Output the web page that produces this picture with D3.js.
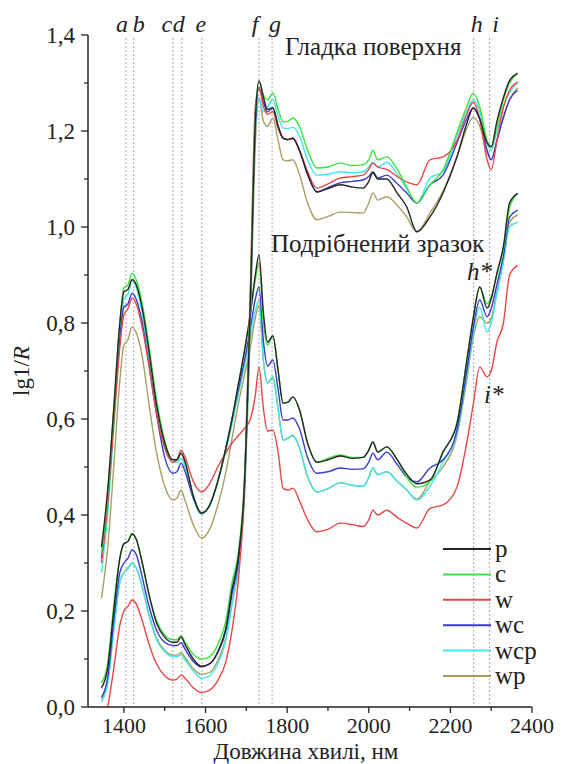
<!DOCTYPE html>
<html>
<head>
<meta charset="utf-8">
<script src="https://cdn.jsdelivr.net/npm/d3@7"></script>
<style>
  body { margin: 0; background: #fff; }
</style>
</head>
<body>
<script>
const width = 561;
const height = 764;
const serif = "'Liberation Serif'";

// Довжини хвиль (нм)
const wavelengths = [1345, 1360, 1375, 1390, 1400, 1410, 1420, 1430, 1445, 1460,
  1480, 1500, 1520, 1530, 1540, 1550, 1570, 1590, 1610, 1630,
  1650, 1665, 1680, 1695, 1710, 1722, 1731, 1742, 1752, 1765,
  1778, 1790, 1802, 1814, 1830, 1850, 1873, 1900, 1930, 1960,
  1986, 2000, 2010, 2022, 2044, 2070, 2093, 2118, 2150, 2182,
  2216, 2240, 2256, 2272, 2290, 2300, 2314, 2330, 2345, 2365];

// Гладка поверхня
const smoothP = [0.04, 0.08, 0.20, 0.31, 0.34, 0.345, 0.36, 0.35, 0.30, 0.24,
  0.175, 0.145, 0.135, 0.135, 0.146, 0.13, 0.10, 0.085, 0.09, 0.115,
  0.165, 0.245, 0.31, 0.46, 0.85, 1.22, 1.305, 1.27, 1.245, 1.248,
  1.21, 1.185, 1.182, 1.185, 1.16, 1.11, 1.073, 1.08, 1.088, 1.083,
  1.081, 1.095, 1.113, 1.10, 1.10, 1.07, 1.042, 0.99, 1.021, 1.071,
  1.146, 1.215, 1.248, 1.225, 1.175, 1.167, 1.22, 1.27, 1.305, 1.32];
const smoothC = [0.05, 0.09, 0.21, 0.31, 0.34, 0.345, 0.362, 0.35, 0.30, 0.24,
  0.18, 0.15, 0.14, 0.14, 0.148, 0.135, 0.11, 0.10, 0.105, 0.13,
  0.18, 0.26, 0.32, 0.47, 0.86, 1.23, 1.302, 1.275, 1.265, 1.279,
  1.245, 1.219, 1.22, 1.227, 1.21, 1.16, 1.123, 1.125, 1.133, 1.128,
  1.13, 1.14, 1.16, 1.14, 1.146, 1.12, 1.083, 1.05, 1.088, 1.119,
  1.196, 1.25, 1.279, 1.25, 1.18, 1.167, 1.21, 1.265, 1.30, 1.32];
const smoothW = [-0.03, 0.0, 0.08, 0.17, 0.20, 0.21, 0.223, 0.215, 0.18, 0.135,
  0.09, 0.065, 0.056, 0.058, 0.067, 0.06, 0.04, 0.03, 0.035, 0.055,
  0.095, 0.16, 0.26, 0.45, 0.88, 1.25, 1.29, 1.25, 1.235, 1.24,
  1.205, 1.185, 1.182, 1.185, 1.16, 1.115, 1.081, 1.09, 1.102, 1.105,
  1.108, 1.12, 1.133, 1.125, 1.12, 1.105, 1.094, 1.088, 1.14, 1.146,
  1.18, 1.235, 1.26, 1.225, 1.14, 1.119, 1.18, 1.25, 1.285, 1.302];
const smoothWC = [0.02, 0.06, 0.18, 0.28, 0.30, 0.31, 0.327, 0.318, 0.27, 0.215,
  0.16, 0.135, 0.128, 0.128, 0.134, 0.12, 0.095, 0.084, 0.09, 0.113,
  0.16, 0.235, 0.30, 0.45, 0.84, 1.21, 1.29, 1.26, 1.24, 1.248,
  1.21, 1.185, 1.182, 1.185, 1.16, 1.11, 1.073, 1.082, 1.092, 1.095,
  1.098, 1.105, 1.115, 1.102, 1.108, 1.09, 1.071, 1.05, 1.088, 1.108,
  1.175, 1.225, 1.248, 1.225, 1.16, 1.14, 1.18, 1.229, 1.265, 1.285];
const smoothWCP = [0.01, 0.05, 0.16, 0.26, 0.28, 0.288, 0.30, 0.29, 0.25, 0.195,
  0.14, 0.115, 0.105, 0.105, 0.108, 0.098, 0.075, 0.06, 0.065, 0.09,
  0.14, 0.215, 0.29, 0.44, 0.83, 1.20, 1.265, 1.24, 1.25, 1.265,
  1.23, 1.206, 1.205, 1.208, 1.19, 1.14, 1.108, 1.11, 1.115, 1.113,
  1.115, 1.125, 1.135, 1.125, 1.135, 1.11, 1.08, 1.05, 1.102, 1.115,
  1.19, 1.24, 1.265, 1.24, 1.175, 1.16, 1.20, 1.25, 1.28, 1.30];
const smoothWP = [0.015, 0.05, 0.16, 0.26, 0.28, 0.29, 0.30, 0.29, 0.25, 0.198,
  0.143, 0.118, 0.108, 0.108, 0.113, 0.103, 0.08, 0.068, 0.072, 0.097,
  0.145, 0.215, 0.285, 0.43, 0.80, 1.17, 1.27, 1.22, 1.21, 1.227,
  1.18, 1.14, 1.138, 1.14, 1.11, 1.05, 1.015, 1.022, 1.031, 1.03,
  1.029, 1.05, 1.071, 1.056, 1.063, 1.045, 1.021, 0.99, 1.029, 1.075,
  1.146, 1.205, 1.229, 1.21, 1.155, 1.14, 1.18, 1.227, 1.265, 1.29];

// Подрібнений зразок
const groundP = [0.333, 0.45, 0.62, 0.80, 0.865, 0.87, 0.89, 0.88, 0.83, 0.75,
  0.63, 0.55, 0.515, 0.515, 0.529, 0.51, 0.44, 0.404, 0.42, 0.47,
  0.54, 0.60, 0.67, 0.74, 0.82, 0.90, 0.942, 0.82, 0.76, 0.773,
  0.70, 0.633, 0.635, 0.646, 0.62, 0.55, 0.51, 0.515, 0.523, 0.518,
  0.52, 0.535, 0.552, 0.531, 0.542, 0.515, 0.485, 0.465, 0.473, 0.531,
  0.59, 0.72, 0.81, 0.875, 0.831, 0.85, 0.904, 0.96, 1.05, 1.07];
const groundC = [0.32, 0.44, 0.62, 0.80, 0.873, 0.88, 0.904, 0.89, 0.84, 0.76,
  0.64, 0.555, 0.515, 0.515, 0.529, 0.51, 0.44, 0.404, 0.42, 0.47,
  0.54, 0.60, 0.67, 0.74, 0.82, 0.89, 0.925, 0.80, 0.754, 0.773,
  0.70, 0.633, 0.635, 0.646, 0.62, 0.55, 0.51, 0.518, 0.525, 0.52,
  0.52, 0.535, 0.552, 0.531, 0.542, 0.515, 0.479, 0.458, 0.47, 0.531,
  0.592, 0.72, 0.81, 0.875, 0.84, 0.855, 0.90, 0.955, 1.04, 1.07];
const groundW = [0.30, 0.42, 0.59, 0.75, 0.817, 0.83, 0.852, 0.84, 0.79, 0.72,
  0.61, 0.54, 0.51, 0.515, 0.535, 0.52, 0.47, 0.448, 0.465, 0.50,
  0.53, 0.55, 0.565, 0.58, 0.60, 0.65, 0.708, 0.62, 0.575, 0.577,
  0.53, 0.456, 0.452, 0.456, 0.43, 0.39, 0.365, 0.37, 0.383, 0.38,
  0.376, 0.39, 0.41, 0.40, 0.41, 0.395, 0.383, 0.373, 0.414, 0.421,
  0.458, 0.55, 0.63, 0.708, 0.688, 0.70, 0.76, 0.80, 0.90, 0.92];
const groundWC = [0.31, 0.43, 0.60, 0.77, 0.833, 0.84, 0.862, 0.85, 0.80, 0.72,
  0.61, 0.52, 0.487, 0.49, 0.508, 0.49, 0.435, 0.404, 0.42, 0.47,
  0.54, 0.60, 0.66, 0.72, 0.79, 0.85, 0.875, 0.76, 0.71, 0.723,
  0.66, 0.598, 0.598, 0.602, 0.58, 0.52, 0.487, 0.49, 0.498, 0.495,
  0.496, 0.51, 0.529, 0.515, 0.531, 0.505, 0.479, 0.469, 0.498, 0.515,
  0.577, 0.70, 0.79, 0.848, 0.813, 0.83, 0.88, 0.94, 1.02, 1.035];
const groundWCP = [0.28, 0.40, 0.58, 0.76, 0.85, 0.86, 0.89, 0.875, 0.82, 0.735,
  0.615, 0.54, 0.51, 0.51, 0.518, 0.50, 0.435, 0.402, 0.42, 0.47,
  0.535, 0.59, 0.65, 0.71, 0.77, 0.825, 0.848, 0.72, 0.675, 0.688,
  0.62, 0.556, 0.56, 0.567, 0.54, 0.48, 0.448, 0.455, 0.467, 0.462,
  0.46, 0.478, 0.498, 0.484, 0.49, 0.47, 0.452, 0.431, 0.46, 0.51,
  0.57, 0.69, 0.78, 0.833, 0.781, 0.80, 0.86, 0.93, 1.0, 1.01];
const groundWP = [0.227, 0.33, 0.50, 0.68, 0.754, 0.765, 0.792, 0.78, 0.73, 0.64,
  0.53, 0.46, 0.431, 0.435, 0.452, 0.43, 0.38, 0.352, 0.37, 0.42,
  0.49, 0.56, 0.63, 0.69, 0.75, 0.81, 0.837, 0.72, 0.675, 0.685,
  0.62, 0.556, 0.56, 0.565, 0.54, 0.48, 0.448, 0.455, 0.467, 0.462,
  0.46, 0.478, 0.498, 0.484, 0.49, 0.47, 0.452, 0.433, 0.47, 0.50,
  0.565, 0.68, 0.77, 0.813, 0.80, 0.81, 0.865, 0.93, 1.01, 1.025];

const seriesNames = ['p', 'c', 'w', 'wc', 'wcp', 'wp'];
const seriesColors = ['#262626', '#3ee23e', '#e8474a', '#3b3bd0', '#3ee8e8', '#a6a060'];
const smoothSeries = [smoothP, smoothC, smoothW, smoothWC, smoothWCP, smoothWP];
const groundSeries = [groundP, groundC, groundW, groundWC, groundWCP, groundWP];

// Смуги поглинання
const bandLabels = ['a', 'b', 'c', 'd', 'e', 'f', 'g', 'h', 'i'];
const bandPositions = [1405, 1424, 1520, 1542, 1591, 1731, 1763, 2257, 2296];

const xTicks = [1400, 1600, 1800, 2000, 2200, 2400];
const yTicks = [0, 0.2, 0.4, 0.6, 0.8, 1.0, 1.2, 1.4];

const x = d3.scaleLinear().domain([1312, 2400]).range([88, 532]);
const y = d3.scaleLinear().domain([0, 1.4]).range([707, 35]);

const svg = d3.select('body').append('svg')
  .attr('width', width)
  .attr('height', height)
  .style('font-family', serif);

// текст завжди з явним шрифтом
function label(parent, tx, ty, size, str, italic) {
  return parent.append('text')
    .attr('x', tx).attr('y', ty)
    .style('font-family', serif)
    .style('font-size', size + 'px')
    .style('font-style', italic ? 'italic' : 'normal')
    .style('fill', '#222')
    .text(str);
}

svg.append('clipPath').attr('id', 'plot')
  .append('rect').attr('x', 88).attr('y', 30).attr('width', 450).attr('height', 677);

// вертикальні пунктирні лінії
svg.selectAll('line.band')
  .data(bandPositions)
  .enter()
  .append('line')
  .attr('class', 'band')
  .attr('x1', d => x(d)).attr('x2', d => x(d))
  .attr('y1', 38).attr('y2', 707)
  .attr('stroke', '#aaa')
  .attr('stroke-width', 1)
  .attr('stroke-dasharray', '2,2');

// зсув підписів відносно ліній
const labelShift = [-4, 5, -6, -3, -1, -4, 3, 3, 6];
bandLabels.forEach((d, i) => {
  label(svg, x(bandPositions[i]) + labelShift[i], 32, 24, d, true).attr('text-anchor', 'middle');
});

const line = d3.line()
  .x((d, i) => x(wavelengths[i]))
  .y(d => y(d))
  .curve(d3.curveMonotoneX);

const curves = svg.append('g').attr('clip-path', 'url(#plot)');
[groundSeries, smoothSeries].forEach(group => {
  [5, 4, 3, 2, 1, 0].forEach(k => {
    curves.append('path')
      .attr('d', line(group[k]))
      .attr('fill', 'none')
      .attr('stroke', seriesColors[k])
      .attr('stroke-width', 1.4);
  });
});

// осі
const xAxis = svg.append('g').attr('transform', 'translate(0,707)');
xAxis.append('line').attr('x1', 88).attr('x2', 532).attr('stroke', '#222').attr('stroke-width', 1.5);
xAxis.selectAll('line.t')
  .data(d3.range(1400, 2401, 100))
  .enter().append('line')
  .attr('x1', d => x(d)).attr('x2', d => x(d))
  .attr('y1', 0).attr('y2', d => d % 200 === 0 ? 6 : 4)
  .attr('stroke', '#222').attr('stroke-width', 1.3);
xTicks.forEach(d => {
  label(xAxis, x(d), 26, 22, String(d)).attr('text-anchor', 'middle');
});

const yAxis = svg.append('g').attr('transform', 'translate(88,0)');
yAxis.append('line').attr('y1', 35).attr('y2', 707).attr('stroke', '#222').attr('stroke-width', 1.5);
yAxis.selectAll('line.t')
  .data(d3.range(0, 15).map(d => d / 10))
  .enter().append('line')
  .attr('y1', d => y(d)).attr('y2', d => y(d))
  .attr('x1', (d, i) => i % 2 === 0 ? -7 : -4).attr('x2', 0)
  .attr('stroke', '#222').attr('stroke-width', 1.3);
yTicks.forEach(d => {
  label(yAxis, -13, y(d) + 8, 23, d3.format('.1f')(d).replace('.', ',')).attr('text-anchor', 'end');
});

label(svg, 306, 759, 23, 'Довжина хвилі, нм').attr('text-anchor', 'middle');

const yl = label(svg, 0, 0, 23, 'lg1/')
  .attr('transform', 'translate(29,371) rotate(-90)')
  .attr('text-anchor', 'middle');
yl.append('tspan').style('font-style', 'italic').text('R');

// підписи груп
label(svg, 285, 55, 25, 'Гладка поверхня');
label(svg, 271, 252, 25, 'Подрібнений зразок');
label(svg, 467, 280, 25, 'h*', true);
label(svg, 484, 403, 25, 'i*', true);

// легенда
const legend = svg.append('g');
seriesNames.forEach((name, i) => {
  const ly = 549 + i * 25.4;
  legend.append('line')
    .attr('x1', 443).attr('x2', 491)
    .attr('y1', ly).attr('y2', ly)
    .attr('stroke', seriesColors[i])
    .attr('stroke-width', 2);
  label(legend, 495, ly + 8, 25, name);
});
</script>
</body>
</html>
